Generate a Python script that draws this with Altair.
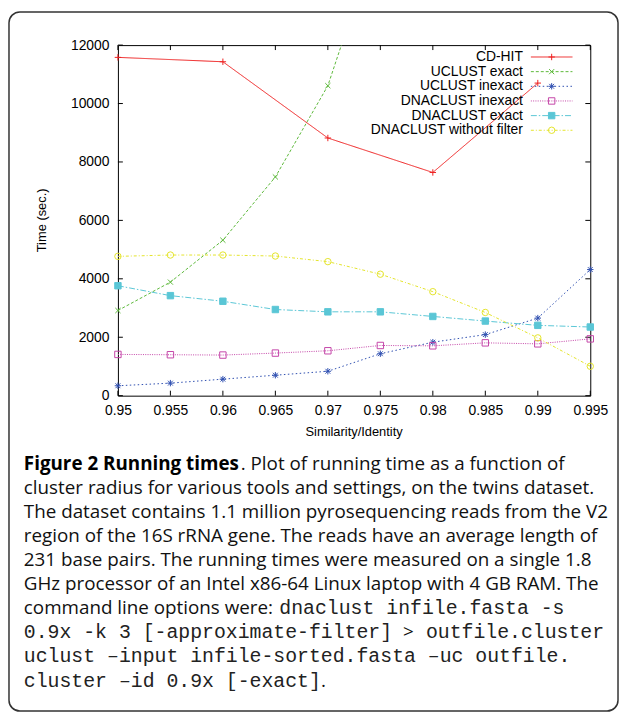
import altair as alt
import pandas as pd

# ---------------- data ----------------
x_vals = [0.95, 0.955, 0.96, 0.965, 0.97, 0.975, 0.98, 0.985, 0.99, 0.995]
cdhit_x = [0.95, 0.96, 0.97, 0.98, 0.99]
cdhit = [11580, 11430, 8820, 7640, 10700]
uclust_exact_x = [0.95, 0.955, 0.96, 0.965, 0.97, 0.975]
uclust_exact = [2915, 3887, 5322, 7487, 10610, 16000]
uclust_inexact = [339, 429, 565, 700, 836, 1435, 1830, 2090, 2655, 4317]
dnaclust_inexact = [1412, 1401, 1390, 1458, 1537, 1718, 1706, 1808, 1774, 1944]
dnaclust_exact = [3763, 3424, 3232, 2949, 2870, 2870, 2712, 2554, 2407, 2350]
dnaclust_nofilter = [4769, 4814, 4814, 4780, 4588, 4158, 3560, 2848, 1978, 1006]

series_names = ["CD-HIT", "UCLUST exact", "UCLUST inexact",
                "DNACLUST inexact", "DNACLUST exact", "DNACLUST without filter"]
y_ticks = [0, 2000, 4000, 6000, 8000, 10000, 12000]

x_title = "Similarity/Identity"
y_title = "Time (sec.)"

caption = [
    [("bold", "Figure 2 Running times"), ("sans", ". Plot of running time as a function of")],
    [("sans", "cluster radius for various tools and settings, on the twins dataset.")],
    [("sans", "The dataset contains 1.1 million pyrosequencing reads from the V2")],
    [("sans", "region of the 16S rRNA gene. The reads have an average length of")],
    [("sans", "231 base pairs. The running times were measured on a single 1.8")],
    [("sans", "GHz processor of an Intel x86-64 Linux laptop with 4 GB RAM. The")],
    [("sans", "command line options were:"), ("mono", "dnaclust infile.fasta -s")],
    [("mono", "0.9x -k 3 [-approximate-filter]"), ("sans", ">"), ("mono", "outfile.cluster")],
    [("mono", "uclust \u2013input infile-sorted.fasta \u2013uc outfile.")],
    [("mono", "cluster \u2013id 0.9x [-exact]"), ("sans", ".")],
]

# ---------------- styles / layout ----------------
colors = ["#ee2020", "#5cb83a", "#2f4fb0", "#c445a8", "#5ac6d6", "#e4e42a"]
dashes = [[1, 0], [3, 2], [1.5, 2.5], [1, 1.3], [6, 2, 1.5, 2], [3, 2, 1, 2]]
PLUS = "M-1,0L1,0M0,-1L0,1"
CROSS = "M-0.8,-0.8L0.8,0.8M-0.8,0.8L0.8,-0.8"
STAR = "M-1,0L1,0M0,-1L0,1M-0.75,-0.75L0.75,0.75M-0.75,0.75L0.75,-0.75"
shapes = [PLUS, CROSS, STAR, "square", "square", "circle"]
fills = ["transparent", "transparent", "transparent", "transparent", "#5ac6d6", "transparent"]

W, H = 477, 354
PX0, PY0 = 119, 42          # page position of plot origin
SANS = "Open Sans"
MONO = "Liberation Mono"
AX = "Liberation Sans"
SANS_SIZE = 19
MONO_SIZE = 20

cap_x0 = 24
cap_y0 = 471
cap_dy = 24.3
# page x of the later segments of mixed lines
seg_x = {(0, 1): 243, (6, 1): 282, (7, 1): 407, (7, 2): 430, (9, 1): 324}

rows = []
def add(xs, ys, name):
    for a, b in zip(xs, ys):
        rows.append({"x": a, "t": b, "series": name})
add(cdhit_x, cdhit, series_names[0])
add(uclust_exact_x, uclust_exact, series_names[1])
add(x_vals, uclust_inexact, series_names[2])
add(x_vals, dnaclust_inexact, series_names[3])
add(x_vals, dnaclust_exact, series_names[4])
add(x_vals, dnaclust_nofilter, series_names[5])
df = pd.DataFrame(rows)

xscale = alt.Scale(domain=[0.95, 0.995], nice=False, zero=False)
yscale = alt.Scale(domain=[0, 12000], nice=False, zero=False)
color_scale = alt.Scale(domain=series_names, range=colors)
dash_scale = alt.Scale(domain=series_names, range=dashes)
shape_scale = alt.Scale(domain=series_names, range=shapes)
fill_scale = alt.Scale(domain=series_names, range=fills)

xaxis = alt.Axis(values=x_vals, format=".3~f", title=None, grid=False, ticks=False,
                 domain=False, labelFont=AX, labelFontSize=14, labelColor="black",
                 labelPadding=8, labelFlush=False)
yaxis = alt.Axis(values=y_ticks, format="d", title=None, grid=False, ticks=False,
                 domain=False, labelFont=AX, labelFontSize=14, labelColor="black",
                 labelPadding=9)

lines = alt.Chart(df).mark_line(strokeWidth=1, clip=True).encode(
    x=alt.X("x:Q", scale=xscale, axis=xaxis),
    y=alt.Y("t:Q", scale=yscale, axis=yaxis),
    color=alt.Color("series:N", scale=color_scale, legend=None),
    strokeDash=alt.StrokeDash("series:N", scale=dash_scale, legend=None),
)
points = alt.Chart(df).transform_filter("datum.t <= 12000").mark_point(
    size=42, strokeWidth=1, opacity=1).encode(
    x=alt.X("x:Q", scale=xscale),
    y=alt.Y("t:Q", scale=yscale),
    shape=alt.Shape("series:N", scale=shape_scale, legend=None),
    stroke=alt.Stroke("series:N", scale=color_scale, legend=None),
    fill=alt.Fill("series:N", scale=fill_scale, legend=None),
)

xt = pd.DataFrame({"xt": x_vals})
yt = pd.DataFrame({"yt": y_ticks})
TL = 5
tick_b = alt.Chart(xt).mark_rule(color="black", strokeWidth=1).encode(
    x=alt.X("xt:Q", scale=xscale), y=alt.value(H), y2=alt.value(H - TL))
tick_t = alt.Chart(xt).mark_rule(color="black", strokeWidth=1).encode(
    x=alt.X("xt:Q", scale=xscale), y=alt.value(0), y2=alt.value(TL))
tick_l = alt.Chart(yt).mark_rule(color="black", strokeWidth=1).encode(
    y=alt.Y("yt:Q", scale=yscale), x=alt.value(0), x2=alt.value(TL))
tick_r = alt.Chart(yt).mark_rule(color="black", strokeWidth=1).encode(
    y=alt.Y("yt:Q", scale=yscale), x=alt.value(W - TL), x2=alt.value(W))

main = alt.layer(lines, tick_b, tick_t, tick_l, tick_r, points)

# ---------------- legend (inside, top right) ----------------
leg_y0, leg_dy = 54, 14.8
leg = pd.DataFrame({"series": series_names,
                    "py": [leg_y0 - PY0 + i * leg_dy for i in range(len(series_names))]})
leg_text = alt.Chart(leg).mark_text(align="right", baseline="middle", font=AX,
                                    fontSize=14, color="black").encode(
    x=alt.value(528 - PX0), y=alt.Y("py:Q", scale=None, axis=None), text="series:N")
leg_line = alt.Chart(leg).mark_rule(strokeWidth=1).encode(
    x=alt.value(536 - PX0), x2=alt.value(578 - PX0),
    y=alt.Y("py:Q", scale=None, axis=None),
    color=alt.Color("series:N", scale=color_scale, legend=None),
    strokeDash=alt.StrokeDash("series:N", scale=dash_scale, legend=None))
leg_pt = alt.Chart(leg).mark_point(size=42, strokeWidth=1, opacity=1).encode(
    x=alt.value(557 - PX0), y=alt.Y("py:Q", scale=None, axis=None),
    shape=alt.Shape("series:N", scale=shape_scale, legend=None),
    stroke=alt.Stroke("series:N", scale=color_scale, legend=None),
    fill=alt.Fill("series:N", scale=fill_scale, legend=None))

# ---------------- axis titles, caption, frame box ----------------
def text_layer(d, font, size, weight="normal", align="left", angle=0,
               baseline="alphabetic", color="black"):
    return alt.Chart(pd.DataFrame(d)).mark_text(
        align=align, baseline=baseline, font=font, fontSize=size, fontWeight=weight,
        color=color, angle=angle).encode(
        x=alt.X("px:Q", scale=None, axis=None), y=alt.Y("py:Q", scale=None, axis=None),
        text="text:N")

xtitle = text_layer([{"px": W / 2, "py": 433 - PY0, "text": x_title}], AX, 13,
                    align="center", baseline="middle")
ytitle = text_layer([{"px": 42 - PX0, "py": H / 2, "text": y_title}], AX, 13,
                    align="center", angle=270, baseline="middle")

seg = {"bold": [], "sans": [], "mono": []}
for i, line in enumerate(caption):
    for j, (style, s) in enumerate(line):
        xp = cap_x0 if j == 0 else seg_x[(i, j)]
        seg[style].append({"px": xp - PX0, "py": cap_y0 + i * cap_dy - PY0, "text": s})

cap_bold = text_layer(seg["bold"], SANS, SANS_SIZE, weight="bold")
cap_sans = text_layer(seg["sans"], SANS, SANS_SIZE, color="#111111")
cap_mono = text_layer(seg["mono"], MONO, MONO_SIZE, color="#222222")

box = alt.Chart(pd.DataFrame({"b": [0]})).mark_rect(
    fill="transparent", stroke="#333333", strokeWidth=1.5, cornerRadius=11).encode(
    x=alt.value(9 - PX0), x2=alt.value(624 - PX0),
    y=alt.value(8.5 - PY0), y2=alt.value(714.5 - PY0))

overlay = alt.layer(box, leg_line, leg_pt, leg_text, xtitle, ytitle,
                    cap_bold, cap_sans, cap_mono)

chart = alt.layer(main, overlay).resolve_scale(
    x="independent", y="independent"
).properties(
    width=W, height=H,
    autosize=alt.AutoSizeParams(type="none"),
    padding={"left": PX0 - 8, "top": PY0 - 8, "right": 29, "bottom": 707 - (PY0 - 8) - H},
    background="white",
).configure_view(stroke="black", strokeWidth=1)

chart.save("out.html", embed_options={"renderer": "svg", "actions": False})
